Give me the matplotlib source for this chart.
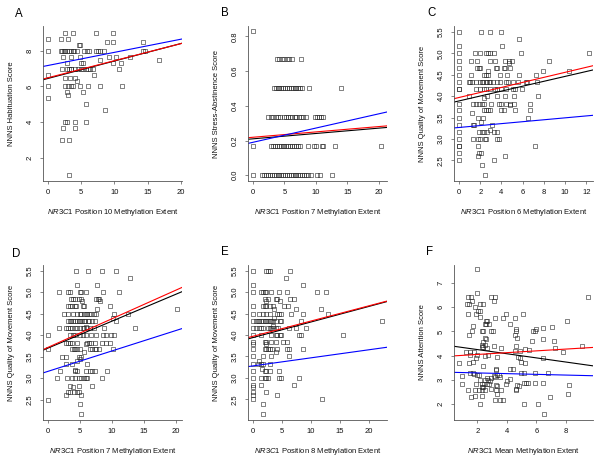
import numpy as np
import matplotlib
matplotlib.use('Agg')
import matplotlib.pyplot as plt

plt.rcParams['font.family'] = ['Liberation Sans', 'DejaVu Sans']
plt.rcParams['mathtext.fontset'] = 'custom'
plt.rcParams['mathtext.it'] = 'Liberation Sans:italic'
plt.rcParams['mathtext.rm'] = 'Liberation Sans'

# --- data: score value -> methylation values at that score ---
rows_a = {
    9.0: [2.6, 3.8, 7.3, 9.8],
    8.67: [0, 2.0, 3.0],
    8.5: [8.9, 9.8, 14.3],
    8.33: [4.6, 4.8],
    8.0: [0, 1.9, 2.1, 2.4, 2.6, 2.9, 3.1, 3.4, 3.7, 3.9, 4.3, 5.4, 5.8, 6.2, 7.3, 7.5, 7.9, 8.4, 14.3, 14.6],
    7.67: [2.3, 3.5, 4.8, 9.2, 10.3, 12.4],
    7.5: [7.9, 16.7],
    7.33: [2.9, 4.9, 5.2, 9.8, 11.0],
    7.0: [2.1, 2.9, 3.1, 3.4, 3.5, 4.1, 4.5, 4.9, 5.3, 5.7, 6.0, 6.4, 6.8, 10.7],
    6.67: [0, 6.95],
    6.5: [2.6, 3.3, 4.0],
    6.33: [4.3],
    6.0: [0, 2.6, 3.0, 3.4, 3.8, 4.8, 6.0, 7.9, 11.2],
    5.67: [2.9, 5.2],
    5.5: [3.0],
    5.33: [0],
    5.0: [5.7],
    4.67: [8.6],
    4.0: [2.6, 2.8, 4.0, 5.7],
    3.67: [2.3, 4.0],
    3.0: [2.1, 3.1],
    1.0: [3.1],
}

rows_b = {
    0.833: [0],
    0.667: [3.8, 4.2, 4.6, 5.0, 5.4, 5.8, 6.2, 7.6],
    0.5: [3.3, 3.6, 3.9, 4.2, 4.5, 4.8, 5.1, 5.4, 5.7, 6.0, 6.3, 6.6, 6.9, 7.2, 7.5, 7.8, 8.9, 14.0],
    0.333: [2.4, 2.8, 3.2, 3.6, 3.9, 4.3, 5.0, 5.3, 5.6, 5.9, 6.2, 6.6, 6.9, 7.3, 7.7, 8.0, 8.4,
            9.8, 10.1, 10.5, 10.8, 11.2],
    0.167: [0, 2.9, 3.2, 3.5, 3.8, 4.1, 4.4, 4.7, 5.0, 5.3, 5.6, 5.9, 6.2, 6.5, 6.8, 7.1, 7.5,
            8.7, 9.7, 10.0, 10.9, 11.1, 13.0, 20.3],
    0.0: [0, 1.5, 1.8, 2.1, 2.4, 2.7, 3.0, 3.3, 3.6, 3.9, 4.2, 4.5, 4.8, 5.1, 5.4, 5.7, 6.0, 6.3,
          6.6, 6.9, 7.2, 7.5, 7.8, 8.1, 8.4, 8.7, 9.2, 10.2, 10.7, 12.6],
}

rows_c = {
    5.5: [0, 2.1, 2.9, 4.0],
    5.33: [5.7],
    5.17: [0, 4.1],
    5.0: [0, 1.5, 2.0, 2.5, 2.7, 2.9, 3.3, 5.8, 12.3],
    4.83: [0, 1.1, 1.7, 2.9, 3.4, 4.3, 4.7, 5.0, 8.5],
    4.78: [4.7],
    4.67: [0, 1.7, 1.85, 2.0, 3.5, 3.6, 4.25, 4.35, 4.8],
    4.6: [2.7, 7.9, 10.4],
    4.5: [0, 1.1, 2.35, 2.55, 2.7, 3.9, 4.5, 5.7, 7.3],
    4.33: [0, 0.9, 1.05, 1.2, 1.6, 2.0, 2.15, 2.3, 2.5, 2.6, 2.8, 2.9, 3.2, 3.6, 3.9, 4.45, 4.65,
           5.1, 5.6, 6.3, 6.45, 7.35],
    4.17: [0, 0, 1.65, 2.0, 2.35, 2.55, 2.9, 3.4, 3.55, 4.0, 4.45, 5.05, 5.3, 5.9],
    4.0: [0.98, 2.6, 3.55, 4.35, 5.15, 7.4],
    3.95: [2.35],
    3.83: [0, 1.3, 1.6, 1.9, 2.15, 2.35, 3.0, 3.8, 3.95, 4.45, 4.8, 5.2, 6.65],
    3.8: [4.8],
    3.67: [0, 2.35, 2.55, 2.75, 2.9, 4.0, 4.2, 5.3, 6.65],
    3.6: [1.2],
    3.5: [0, 1.75, 2.3, 6.55],
    3.4: [2.1],
    3.33: [0, 1.3, 1.4, 3.1],
    3.2: [2.9],
    3.17: [0, 1.9, 2.15, 2.35, 2.6, 3.3, 3.55],
    3.0: [0, 1.3, 1.75, 2.0, 2.45, 2.55, 3.6, 3.8],
    2.83: [0, 0, 1.8, 7.2],
    2.67: [0, 1.85, 2.1],
    2.6: [1.75, 4.35],
    2.5: [0, 3.3],
    2.4: [2.2],
    2.17: [2.45],
}

rows_d = {
    5.5: [4.4, 6.3, 8.4, 10.7],
    5.33: [12.9],
    5.17: [4.6, 7.7],
    5.0: [1.8, 3.1, 3.5, 5.0, 5.2, 5.9, 8.6, 11.1],
    4.83: [3.55, 3.9, 4.3, 4.85, 5.2, 7.6, 7.8, 8.0],
    4.8: [5.4, 8.1],
    4.67: [3.1, 3.4, 3.7, 4.3, 4.4, 5.5, 5.7, 9.7],
    4.6: [7.7, 20.2],
    4.5: [2.45, 3.1, 3.9, 4.5, 5.0, 5.2, 5.6, 5.9, 6.1, 6.4, 6.8, 7.2, 7.6, 10.4, 12.5],
    4.4: [10.2],
    4.33: [3.1, 3.4, 3.6, 3.9, 4.2, 4.5, 4.8, 5.0, 5.3, 5.6, 5.8, 6.2, 6.5, 6.9, 7.4, 10.7],
    4.2: [5.9],
    4.17: [1.8, 2.9, 3.1, 3.4, 3.8, 4.2, 4.5, 5.0, 5.5, 5.7, 6.1, 6.6, 7.2, 8.7, 13.7],
    4.0: [0, 3.4, 3.9, 4.3, 5.0, 5.5, 5.9, 6.8, 7.6, 8.6, 9.1, 9.9, 10.4],
    3.83: [2.9, 3.1, 3.5, 3.8, 4.5, 6.1, 6.4, 6.8, 7.3, 8.4, 9.1, 9.7],
    3.8: [5.9],
    3.67: [0, 3.8, 4.0, 4.3, 4.5, 5.0, 6.6, 6.9, 7.3, 7.6, 8.0, 10.2],
    3.6: [5.7],
    3.5: [2.2, 2.8, 4.9, 5.2],
    3.45: [5.0],
    3.4: [4.6],
    3.33: [2.9, 3.8, 6.1],
    3.2: [4.2],
    3.17: [1.9, 4.3, 4.5, 5.9, 6.6, 6.9, 7.3, 9.2],
    3.0: [1.4, 3.0, 3.8, 4.3, 4.9, 5.2, 5.6, 5.9, 6.1, 8.4],
    2.83: [3.5, 4.9, 6.9],
    2.8: [3.9],
    2.67: [3.1, 3.5, 4.0, 4.5, 4.9],
    2.6: [2.8, 5.1],
    2.5: [0],
    2.4: [5.0],
    2.17: [5.2],
}

rows_e = {
    5.5: [0, 2.3, 2.6, 2.9, 6.4],
    5.33: [5.7],
    5.17: [0, 8.7],
    5.0: [0, 1.4, 1.8, 2.0, 2.3, 3.1, 4.5, 5.8, 11.1, 12.6],
    4.83: [2.0, 2.6, 3.9, 4.1, 6.4, 7.0],
    4.8: [2.2, 4.7],
    4.67: [0, 1.7, 2.0, 2.3, 2.9, 3.4, 5.4, 6.0],
    4.6: [3.7, 7.4, 11.7],
    4.5: [0, 1.1, 1.8, 2.2, 3.0, 4.1, 4.5, 4.9, 6.6, 8.7, 12.9],
    4.4: [3.7],
    4.33: [0, 0.6, 0.9, 1.1, 1.4, 1.7, 2.0, 2.3, 2.6, 2.9, 3.1, 3.4, 4.0, 4.6, 4.9, 8.3, 22.2],
    4.2: [3.5],
    4.17: [0, 0.6, 1.0, 1.4, 1.8, 2.6, 2.9, 3.1, 3.4, 3.9, 4.3, 6.2, 7.4, 9.1],
    4.0: [0, 1.4, 3.1, 3.9, 4.1, 4.6, 4.9, 7.9, 8.3, 15.5],
    3.83: [0, 2.0, 2.3, 3.1, 3.9, 5.1, 5.8],
    3.8: [0, 2.3],
    3.67: [0, 2.0, 2.3, 2.6, 2.9, 3.3, 4.1, 5.8, 6.2, 8.7],
    3.6: [3.9],
    3.5: [0, 1.7, 3.1, 6.2],
    3.4: [1.1],
    3.33: [0, 0.9, 1.3, 1.7, 3.0],
    3.2: [1.6],
    3.17: [0, 2.0, 2.3, 2.9, 4.5],
    3.0: [0, 1.4, 2.0, 2.3, 2.6, 4.5, 4.9, 7.9],
    2.83: [0, 1.3, 7.0],
    2.8: [0],
    2.67: [0, 2.2],
    2.6: [0, 4.1],
    2.5: [0, 11.9],
    2.4: [1.7],
    2.17: [1.7],
}

# panel F: mean methylation vs attention score (continuous)
pts_f = [
    (2.0, 7.57), (2.0, 6.58), (1.4, 6.41), (1.55, 6.41), (2.96, 6.41), (3.19, 6.41), (9.46, 6.41),
    (1.62, 6.27), (3.12, 6.27), (1.28, 6.13), (1.46, 6.13), (2.18, 6.13), (2.4, 6.13), (1.84, 5.99),
    (2.07, 5.85), (2.18, 5.85), (1.39, 5.71), (1.95, 5.71), (3.92, 5.71), (5.09, 5.71), (2.18, 5.61),
    (3.19, 5.57), (3.75, 5.57), (4.53, 5.57), (2.58, 5.43), (2.67, 5.43), (8.07, 5.43), (2.51, 5.29),
    (2.62, 5.29), (2.8, 5.29), (4.19, 5.29), (1.69, 5.22), (6.43, 5.15), (4.64, 5.11), (7.06, 5.18),
    (1.62, 5.01), (2.29, 5.01), (2.4, 5.01), (2.96, 5.01), (3.08, 5.01), (4.6, 5.01), (5.76, 5.01),
    (5.88, 5.01), (5.99, 5.08), (1.46, 4.83), (4.53, 4.87), (7.22, 4.59), (4.69, 4.73), (2.51, 4.73),
    (2.6, 4.69), (5.72, 4.59), (6.48, 4.69), (2.36, 4.55), (2.29, 4.45), (2.51, 4.45), (4.64, 4.41),
    (2.29, 4.35), (2.4, 4.35), (2.63, 4.31), (3.14, 4.41), (3.63, 4.31), (5.2, 4.27), (4.87, 4.17),
    (5.49, 4.24), (7.26, 4.31), (4.53, 4.17), (7.82, 4.13), (1.24, 4.13), (1.51, 4.13), (1.78, 4.13),
    (9.07, 4.41), (2.0, 4.03), (2.51, 4.0), (2.74, 4.03), (1.91, 3.89), (4.75, 3.93), (4.87, 3.89),
    (3.34, 3.96), (6.48, 3.89), (1.51, 4.03), (1.69, 3.75), (4.93, 3.75), (5.2, 3.68), (0.79, 3.71),
    (1.46, 3.71), (2.4, 3.57), (4.24, 3.43), (4.42, 3.43), (3.26, 3.43), (3.3, 3.4), (1.51, 3.29),
    (1.69, 3.29), (1.78, 3.23), (2.0, 3.19), (2.13, 3.19), (4.98, 3.29), (5.14, 3.29), (5.88, 3.29),
    (6.77, 3.26), (0.95, 3.15), (3.34, 3.19), (3.48, 3.19), (2.67, 3.05), (2.96, 3.05), (3.52, 3.12),
    (4.19, 3.01), (4.01, 2.95), (2.18, 2.98), (2.51, 2.98), (2.74, 2.98), (2.85, 2.95), (3.14, 3.15),
    (3.2, 3.12), (3.92, 2.84), (0.95, 2.84), (1.95, 2.84), (2.29, 2.84), (2.45, 2.84), (2.63, 2.84),
    (2.8, 2.84), (5.14, 2.87), (5.27, 2.87), (5.43, 2.87), (5.88, 2.87), (6.43, 2.87), (3.26, 2.77),
    (3.34, 2.73), (4.69, 2.77), (4.82, 2.73), (8.22, 2.77), (2.29, 2.7), (2.4, 2.7), (4.64, 2.63),
    (2.96, 2.63), (2.13, 2.59), (2.29, 2.59), (2.51, 2.59), (3.63, 2.59), (3.3, 2.56), (1.39, 2.56),
    (1.84, 2.59), (4.6, 2.56), (3.37, 2.42), (2.29, 2.31), (1.84, 2.31), (8.11, 2.39), (6.93, 2.28),
    (1.55, 2.28), (3.19, 2.14), (3.52, 2.14), (3.75, 2.14), (2.18, 2.0), (5.14, 2.0), (6.1, 2.0),
    (6.54, 1.58),
]

# fitted lines (intercept, slope)
fits_a = {'black': (6.45, 0.098), 'red': (6.49, 0.0958), 'blue': (7.18, 0.0737)}
fits_b = {'black': (0.210, 0.00308), 'red': (0.219, 0.00308), 'blue': (0.190, 0.0082)}
fits_c = {'black': (3.89, 0.0573), 'red': (3.97, 0.0588), 'blue': (3.27, 0.0225)}
fits_d = {'black': (3.70, 0.0624), 'red': (3.717, 0.0663), 'blue': (3.16, 0.0473)}
fits_e = {'black': (3.94, 0.0363), 'red': (3.97, 0.0355), 'blue': (3.28, 0.0188)}
fits_f = {'black': (4.42, -0.0862), 'red': (3.97, 0.0372), 'blue': (3.31, -0.0149)}


def expand(rows):
    xs, ys = [], []
    for yv, xl in rows.items():
        xs += xl
        ys += [yv] * len(xl)
    return np.array(xs), np.array(ys)


W, H = 603, 463
fig = plt.figure(figsize=(W / 100, H / 100), dpi=100)

col_left = [43, 248, 454]
row_top = [26, 265]
ax_w, ax_h = 139, 155

panels = [
    ('A', expand(rows_a), fits_a, (-0.76, 20.2), (0.68, 9.4), [0, 5, 10, 15, 20], [2, 4, 6, 8], '%d',
     'Position 10 Methylation Extent', 'NNNS Habituation Score', (19, 14)),
    ('B', expand(rows_b), fits_b, (-0.79, 21.3), (-0.033, 0.86), [0, 5, 10, 15, 20],
     [0.0, 0.2, 0.4, 0.6, 0.8], '%.1f',
     'Position 7 Methylation Extent', 'NNNS Stress-Abstinence Score', (225, 13)),
    ('C', expand(rows_c), fits_c, (-0.47, 12.63), (2.02, 5.64), [0, 2, 4, 6, 8, 10, 12],
     [2.5, 3.0, 3.5, 4.0, 4.5, 5.0, 5.5], '%.1f',
     'Position 6 Methylation Extent', 'NNNS Quality of Movement Score', (432, 13)),
    ('D', expand(rows_d), fits_d, (-0.78, 21.0), (2.03, 5.63), [0, 5, 10, 15, 20],
     [2.5, 3.0, 3.5, 4.0, 4.5, 5.0, 5.5], '%.1f',
     'Position 7 Methylation Extent', 'NNNS Quality of Movement Score', (16, 254)),
    ('E', expand(rows_e), fits_e, (-0.86, 23.1), (2.02, 5.63), [0, 5, 10, 15, 20],
     [2.5, 3.0, 3.5, 4.0, 4.5, 5.0, 5.5], '%.1f',
     'Position 8 Methylation Extent', 'NNNS Quality of Movement Score', (225, 252)),
    ('F', (np.array([p[0] for p in pts_f]), np.array([p[1] for p in pts_f])), fits_f,
     (0.43, 9.83), (1.33, 7.75), [2, 4, 6, 8], [2, 3, 4, 5, 6, 7], '%d',
     'Mean Methylation Extent', 'NNNS Attention Score', (430, 252)),
]

fs = 5.5
for i, (letter, (xs, ys), fits, xlim, ylim, xt, yt, yfmt, xlab, ylab, lpos) in enumerate(panels):
    l = col_left[i % 3]
    t = row_top[i // 3]
    ax = fig.add_axes([l / W, 1 - (t + ax_h) / H, ax_w / W, ax_h / H])
    ax.plot(xs, ys, 's', ms=3, mfc='none', mec='#222222', mew=0.4, clip_on=False)
    for col in ['black', 'red', 'blue']:
        b, m = fits[col]
        ax.axline((0, b), slope=m, color=col, lw=0.8)
    ax.set_xlim(*xlim)
    ax.set_ylim(*ylim)
    ax.set_xticks(xt)
    ax.set_yticks(yt)
    ax.set_yticklabels([yfmt % v for v in yt], rotation=90, va='center')
    for s in ['top', 'right']:
        ax.spines[s].set_visible(False)
    for s in ['left', 'bottom']:
        ax.spines[s].set_linewidth(0.6)
        ax.spines[s].set_color('#555555')
    ax.tick_params(length=2.5, width=0.5, labelsize=fs, pad=3, colors='#555555', labelcolor='#111111')
    ax.tick_params(axis='y', pad=4)
    ax.set_xlabel(r'$\it{NR3C1}$ ' + xlab, fontsize=fs, color='#111111')
    ax.set_ylabel(ylab, fontsize=fs, color='#111111')
    ax.xaxis.set_label_coords(0.5, -0.165)
    ax.yaxis.set_label_coords(-0.2, 0.5)
    fig.text(lpos[0] / W, 1 - lpos[1] / H, letter, fontsize=8.3, ha='center', va='center')

fig.savefig('out.png', dpi=100)
